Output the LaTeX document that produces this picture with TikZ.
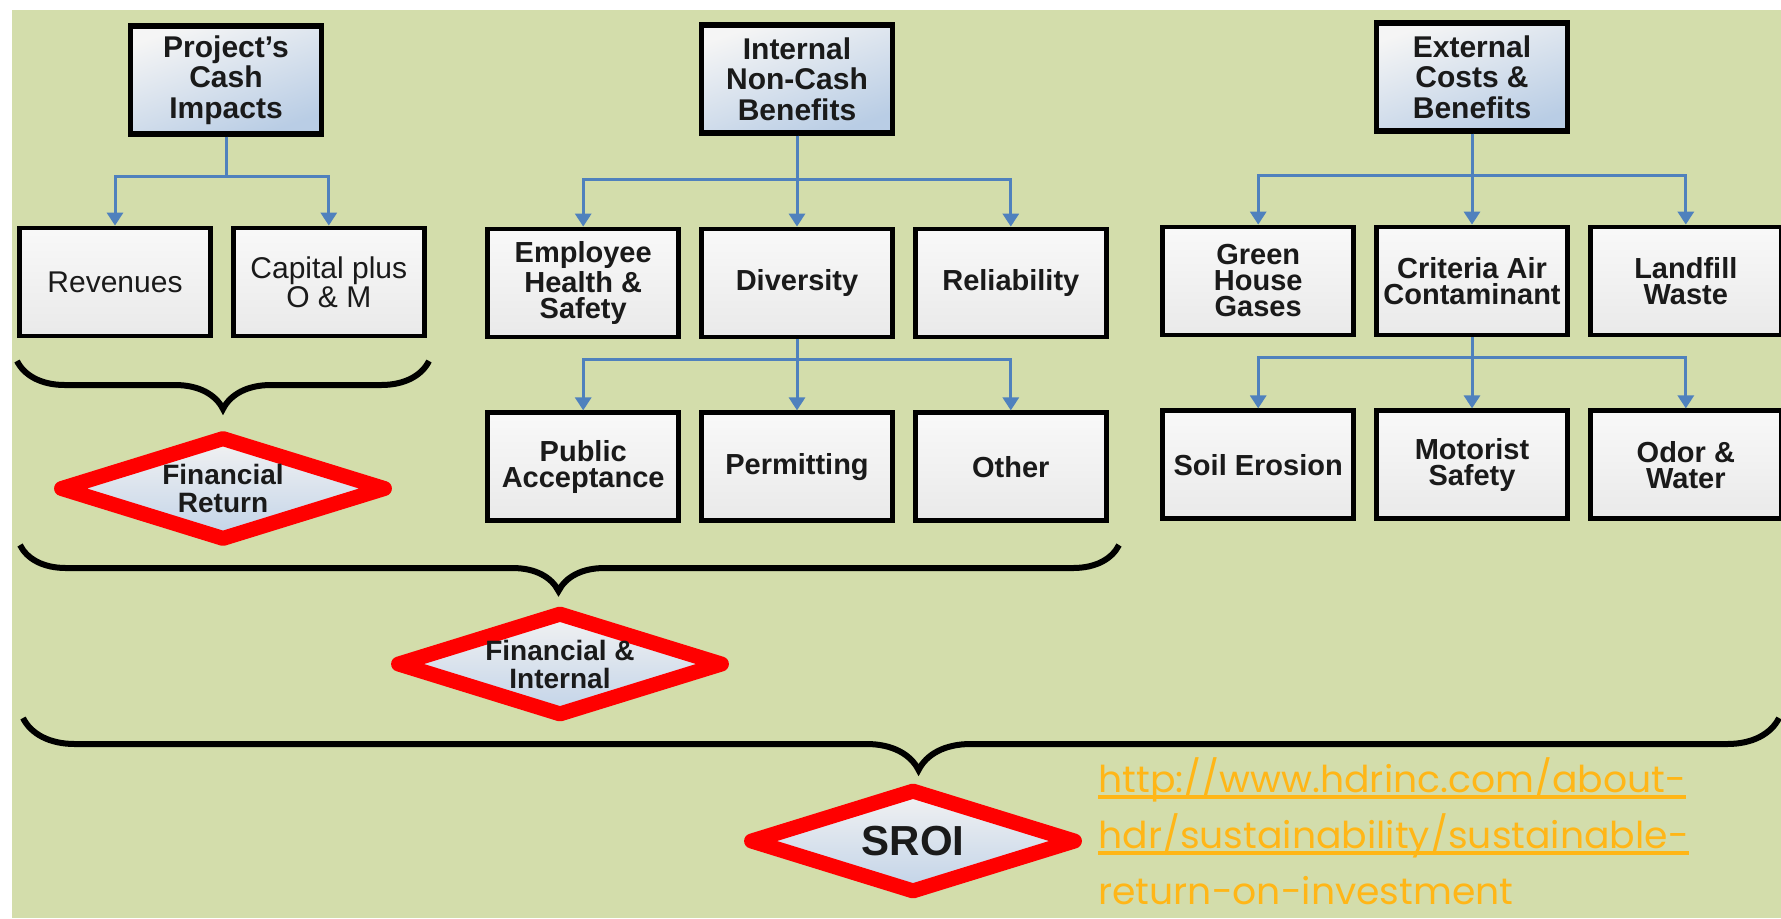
\documentclass[tikz,border=0pt]{standalone}
\usepackage{fontspec}
\setmainfont{Liberation Sans}
\newfontfamily\urlfont{Poppins}
\usetikzlibrary{positioning,arrows.meta,shapes.geometric,decorations.pathreplacing}

\definecolor{bggreen}{HTML}{D3DDAB}
\definecolor{arrowblue}{HTML}{4F81BD}
\definecolor{linkorange}{HTML}{FFB617}
\definecolor{inkgray}{HTML}{1A1A1A}

% underlined link line, stretched a little to the slide's width
\newcommand{\linkline}[1]{\scalebox{1.02}[1]{\setbox0\hbox{#1}\rlap{\rule[-3.5pt]{\wd0}{2pt}}\box0}}
\newcommand{\linkrest}[1]{\scalebox{1.02}[1]{#1}}

\begin{document}
\begin{tikzpicture}[x=0.5pt, y=0.5pt, node distance=45.5pt and 9pt,
                    curly/.style={decorate, decoration={brace, mirror, amplitude=24pt}, line width=3pt}]
    \tikzstyle{head}=[rectangle, draw=black, line width=2.6pt, top color=gray!8, bottom color=arrowblue!40, shading angle=20,
                      minimum width=95.5pt, minimum height=54pt, align=center, text=inkgray,
                      font=\bfseries\fontsize{15}{15.3}\selectfont]
    \tikzstyle{leaf}=[rectangle, draw=black, line width=2.4pt, top color=gray!5, bottom color=gray!17,
                      minimum width=95.5pt, minimum height=54pt, align=center, text=inkgray,
                      font=\bfseries\fontsize{14.5}{13}\selectfont]
    \tikzstyle{plain}=[leaf, font=\fontsize{15}{12.5}\selectfont]
    \tikzstyle{result}=[diamond, draw=red, line width=7.5pt, line join=round, aspect=3, inner sep=0pt,
                        minimum width=164.5pt, minimum height=53pt, top color=gray!10, bottom color=arrowblue!35,
                        align=center, text=inkgray, font=\bfseries\fontsize{14}{14}\selectfont]
    \tikzstyle{connect}=[-{Triangle[width=8pt,length=6.5pt]}, draw=arrowblue, line width=1.5pt]
    \tikzstyle{link}=[anchor=base west, inner sep=0pt, text=linkorange, font=\urlfont\fontsize{18.5}{20}\selectfont]

    % background
    \useasboundingbox (0,0) rectangle (1781,-918);
    \fill[bggreen] (12,-10) rectangle (1781,-918);

    % cash impacts
    \node[head] (proj) at (226,-80) {Project's\\Cash\\Impacts};
    \node[plain] (rev) [below=44.5pt of proj, xshift=-55.5pt] {Revenues};
    \node[plain] (cap) [right=of rev] {Capital plus\\O \& M};

    % internal benefits
    \node[head] (int) at (797,-79) {Internal\\Non-Cash\\Benefits};
    \node[leaf] (div) [below=of int] {Diversity};
    \node[leaf] (emp) [left=of div] {Employee\\Health \&\\Safety};
    \node[leaf] (rel) [right=of div] {Reliability};
    \node[leaf] (perm) [below=35.5pt of div] {Permitting};
    \node[leaf] (pub) [left=of perm] {Public\\Acceptance};
    \node[leaf] (oth) [right=of perm] {Other};

    % external costs
    \node[head] (ext) at (1472,-77) {External\\Costs \&\\Benefits};
    \node[leaf] (cac) [below=of ext] {Criteria Air\\Contaminant};
    \node[leaf] (ghg) [left=of cac] {Green\\House\\Gases};
    \node[leaf] (lfw) [right=of cac] {Landfill\\Waste};
    \node[leaf] (mot) [below=35.5pt of cac] {Motorist\\Safety};
    \node[leaf] (soil) [left=of mot] {Soil Erosion};
    \node[leaf] (odor) [right=of mot] {Odor \&\\Water};

    \draw[connect] (proj.south) -- ++(0,-19.75pt) -| (rev.north);
    \draw[connect] (proj.south) -- ++(0,-19.75pt) -| (cap.north);
    \draw[connect] (int.south) -- ++(0,-21.75pt) -| (emp.north);
    \draw[connect] (int.south) -- (div.north);
    \draw[connect] (int.south) -- ++(0,-21.75pt) -| (rel.north);
    \draw[connect] (div.south) -- ++(0,-10pt) -| (pub.north);
    \draw[connect] (div.south) -- (perm.north);
    \draw[connect] (div.south) -- ++(0,-10pt) -| (oth.north);
    \draw[connect] (ext.south) -- ++(0,-21pt) -| (ghg.north);
    \draw[connect] (ext.south) -- (cac.north);
    \draw[connect] (ext.south) -- ++(0,-21pt) -| (lfw.north);
    \draw[connect] (cac.south) -- ++(0,-10pt) -| (soil.north);
    \draw[connect] (cac.south) -- (mot.north);
    \draw[connect] (cac.south) -- ++(0,-10pt) -| (odor.north);

    % braces and results
    \draw[curly] (17,-361) -- (429,-361);
    \node[result] (finret) at (223,-488.5) {Financial\\Return};
    \draw[curly, decoration={amplitude=23pt, aspect=0.49}] (20,-545) -- (1119,-545);
    \node[result] (finint) at (560,-664) {Financial \&\\Internal};
    \draw[curly, decoration={amplitude=26pt, aspect=0.51}] (23,-718) -- (1779,-718);
    \node[result, font=\bfseries\fontsize{21}{21}\selectfont] (sroi) at (913,-841) {SROI};

    % source link
    \node[link] (url1) at (1098,-792) {\linkline{http://www.hdrinc.com/about-}};
    \node[link] (url2) at (1098,-848) {\linkline{hdr/sustainability/sustainable-}};
    \node[link] (url3) at (1098,-904) {\linkrest{return-on-investment}};
\end{tikzpicture}
\end{document}
